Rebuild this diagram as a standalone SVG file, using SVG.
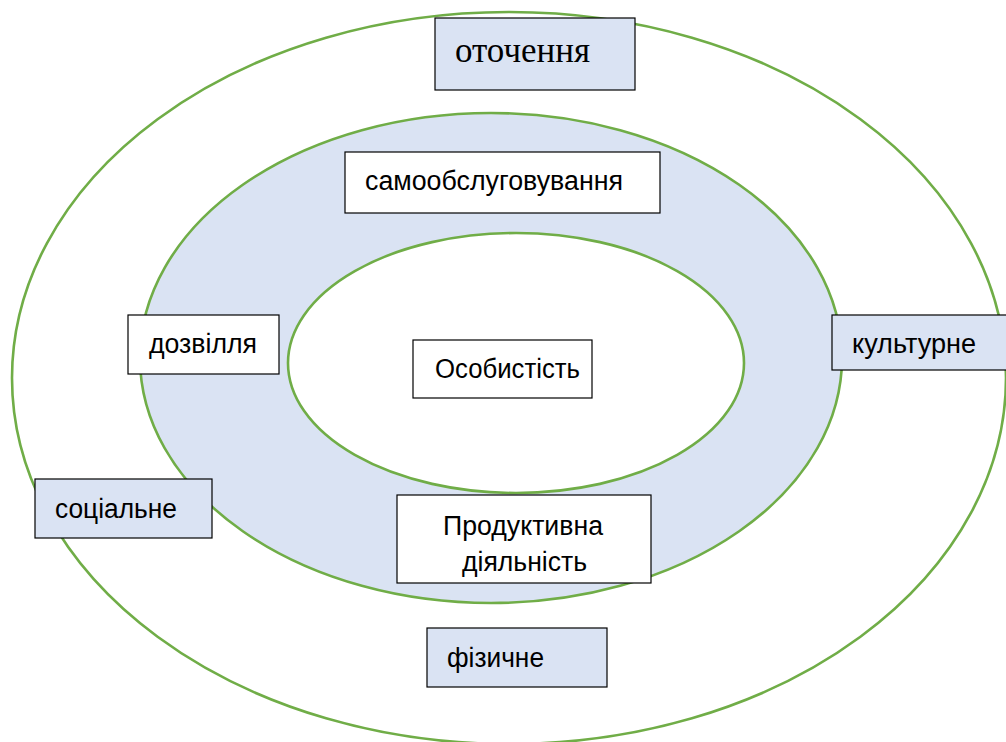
<svg xmlns="http://www.w3.org/2000/svg" width="1006" height="742" viewBox="0 0 1006 742">
<style>
.ring{stroke:#70ad47;stroke-width:2.6}
.box{stroke:#000;stroke-width:1.2}
.blue{fill:#dae3f3}
.white{fill:#fff}
.t{font-family:"Liberation Sans",Arial,sans-serif;font-size:27px;fill:#000}
.s{font-family:"Liberation Serif","Times New Roman",serif;font-size:35px;fill:#000}
</style>
<rect width="1006" height="742" fill="#fff"/>
<g id="rings">
<ellipse class="ring white" cx="509" cy="378" rx="497" ry="366"/>
<ellipse class="ring blue" cx="491" cy="358" rx="351" ry="245"/>
<ellipse class="ring white" cx="516" cy="363" rx="228" ry="130"/>
</g>
<g id="connectors"></g>
<g id="otochennia"><rect class="box blue" x="435" y="18" width="200" height="72"/><text class="s" x="455" y="62" textLength="135" lengthAdjust="spacingAndGlyphs">оточення</text></g>
<g id="samoobsluh"><rect class="box white" x="345" y="152" width="315" height="61"/><text class="t" x="365" y="190" textLength="258" lengthAdjust="spacingAndGlyphs">самообслуговування</text></g>
<g id="dozvillia"><rect class="box white" x="128" y="315" width="151" height="59"/><text class="t" x="149" y="353" textLength="108" lengthAdjust="spacingAndGlyphs">дозвілля</text></g>
<g id="osobystist"><rect class="box white" x="413" y="340" width="179" height="58"/><text class="t" x="435" y="378" textLength="145" lengthAdjust="spacingAndGlyphs">Особистість</text></g>
<g id="kulturne"><rect class="box blue" x="832" y="315" width="200" height="55"/><text class="t" x="852" y="353" textLength="124" lengthAdjust="spacingAndGlyphs">культурне</text></g>
<g id="sotsialne"><rect class="box blue" x="35" y="479" width="177" height="59"/><text class="t" x="55" y="518" textLength="122" lengthAdjust="spacingAndGlyphs">соціальне</text></g>
<g id="produktyvna"><rect class="box white" x="397" y="495" width="254" height="88"/><text class="t" x="443" y="535" textLength="160" lengthAdjust="spacingAndGlyphs">Продуктивна</text><text class="t" x="462" y="571" textLength="125" lengthAdjust="spacingAndGlyphs">діяльність</text></g>
<g id="fizychne"><rect class="box blue" x="427" y="628" width="180" height="59"/><text class="t" x="447" y="667" textLength="97" lengthAdjust="spacingAndGlyphs">фізичне</text></g>
</svg>
